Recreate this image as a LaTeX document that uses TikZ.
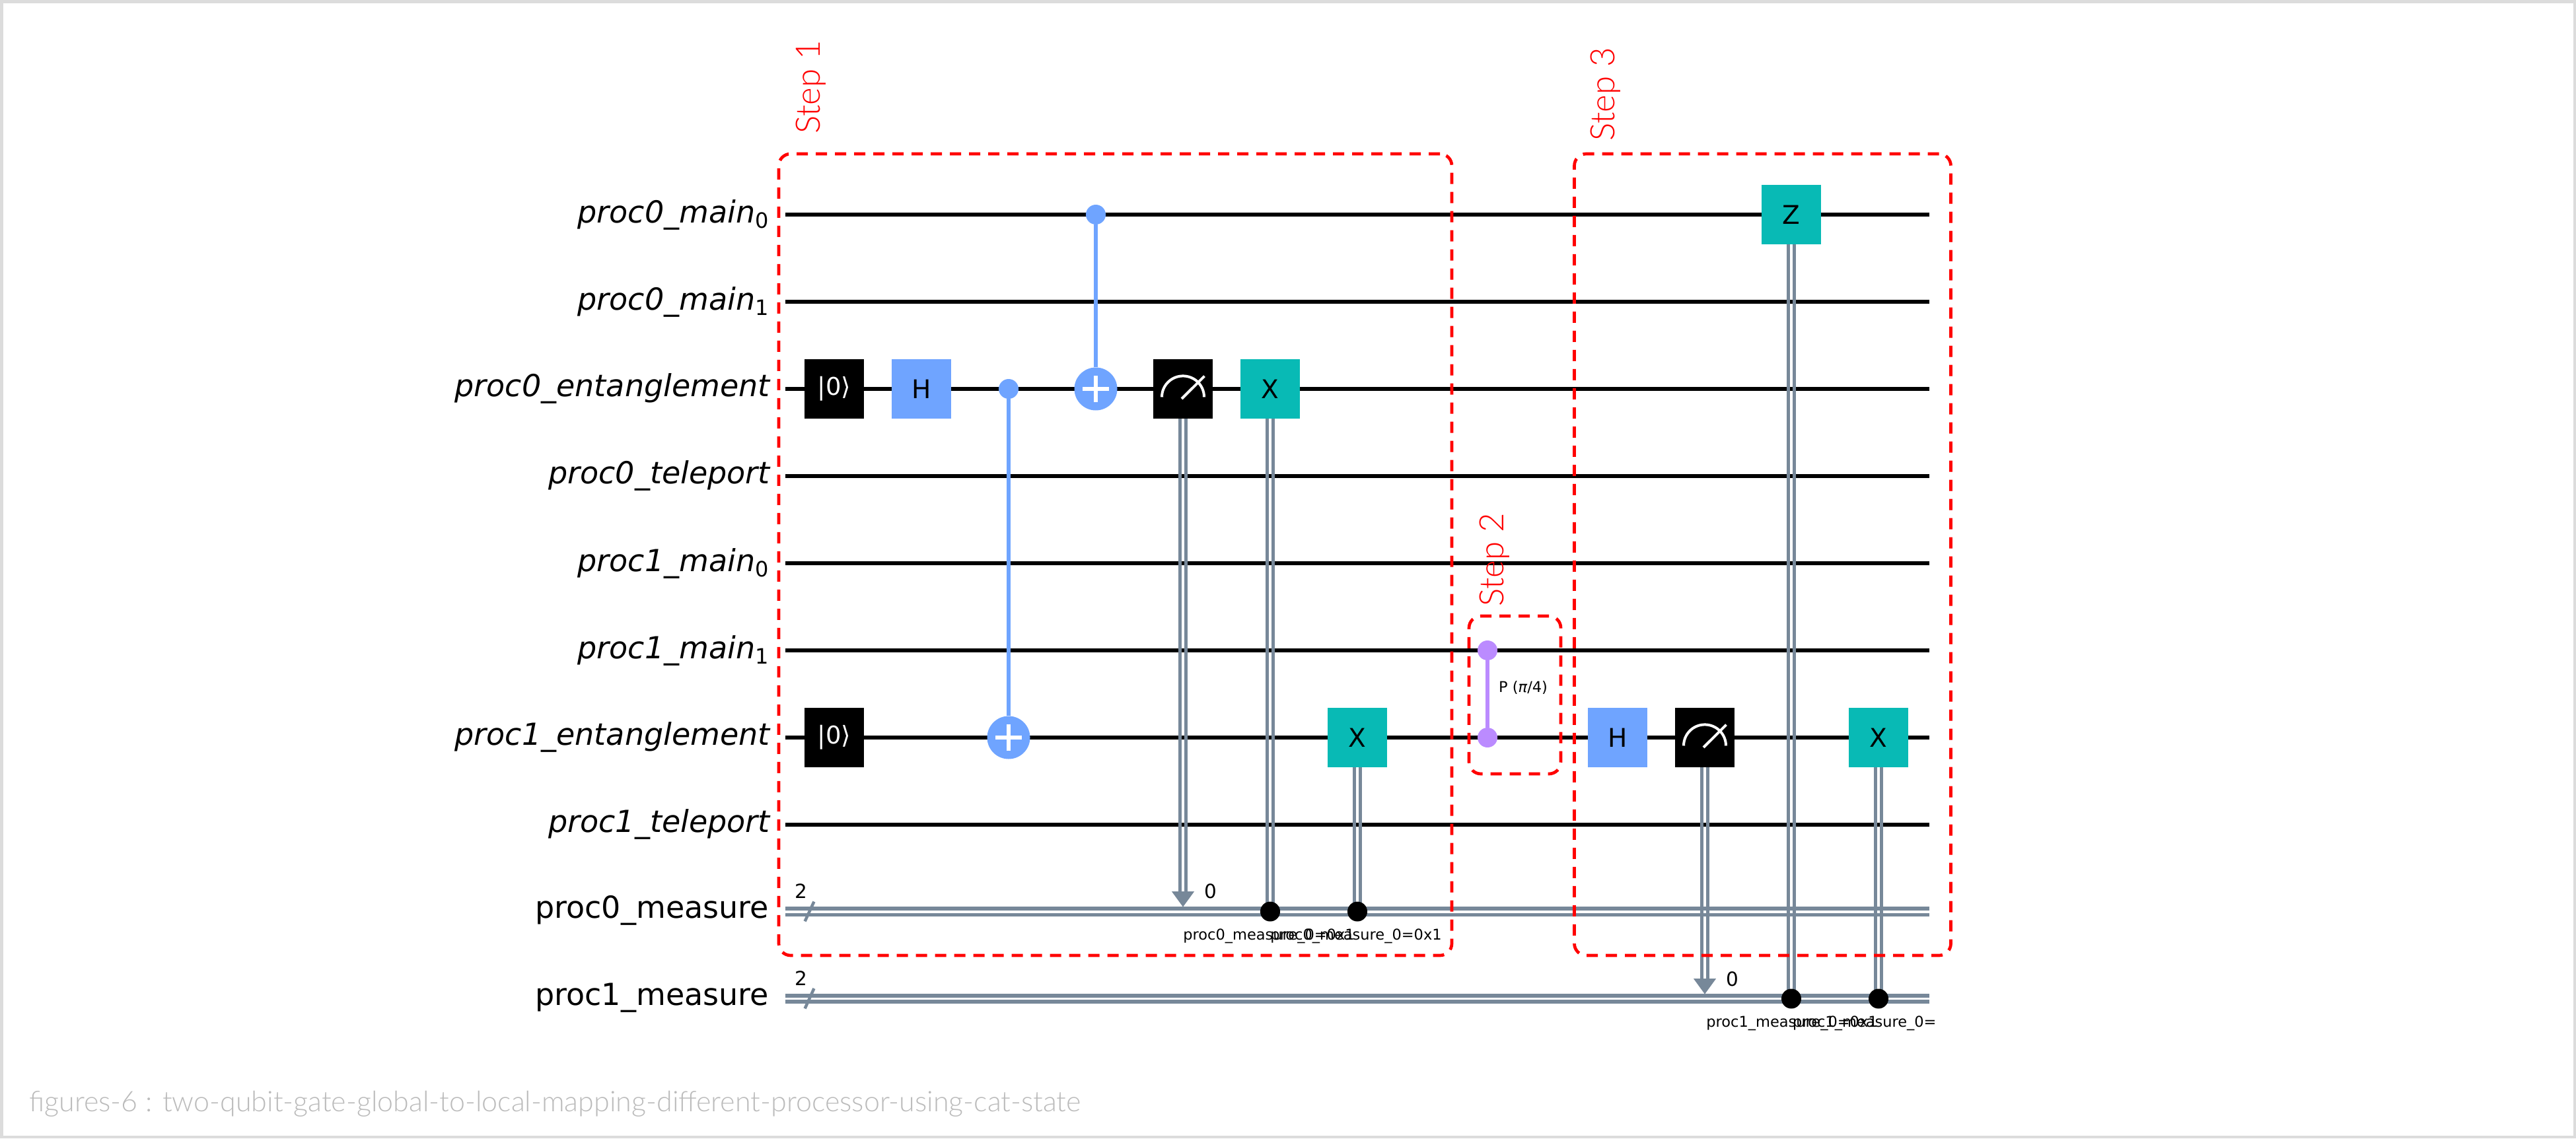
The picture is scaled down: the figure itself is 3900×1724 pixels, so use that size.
\documentclass[tikz,border=0pt]{standalone}
\usepackage{fontspec}
\usetikzlibrary{arrows.meta,backgrounds}
\setmainfont{DejaVu Sans}
\newfontfamily\lightf{Lato}[UprightFont=* Light]
\definecolor{gblue}{HTML}{6FA4FF}
\definecolor{gteal}{HTML}{08BAB5}
\definecolor{gpurple}{HTML}{BB8BFF}
\definecolor{cgray}{HTML}{778899}
\definecolor{capgray}{HTML}{BBBBBB}
\definecolor{edgegray}{HTML}{DCDCDC}
\newcommand{\fs}[1]{\fontsize{#1}{#1}\selectfont}
\newcommand{\sub}[1]{\raisebox{-8pt}{\fs{32}#1}}
\newcommand{\ccon}[2]{\draw[cwire] ([xshift=-4.6pt]#1) -- ([xshift=-4.6pt]#2);\draw[cwire] ([xshift=4.6pt]#1) -- ([xshift=4.6pt]#2);}
\newcommand{\meter}[1]{\draw[meterline] ([shift={(-32pt,-12.4pt)}]#1.center) arc[start angle=180,end angle=0,radius=32pt];\draw[meterline] ([shift={(-2pt,-15pt)}]#1.center) -- ([shift={(32.5pt,19.4pt)}]#1.center);}
\newcommand{\plus}[1]{\draw[plusline] ([xshift=-20pt]#1.center) -- ([xshift=20pt]#1.center);\draw[plusline] ([yshift=-20pt]#1.center) -- ([yshift=20pt]#1.center);}
\tikzset{
  qwire/.style={draw=black,line width=6pt},
  cwire/.style={draw=cgray,line width=5.4pt},
  slashline/.style={draw=cgray,line width=4.5pt},
  gate/.style={rectangle,inner sep=0pt,minimum width=90pt,minimum height=90pt,font=\fs{39}},
  bluegate/.style={gate,fill=gblue,text=black},
  tealgate/.style={gate,fill=gteal,text=black},
  blackgate/.style={gate,fill=black,text=white},
  resetgate/.style={blackgate,font=\fs{37}},
  dotn/.style={circle,inner sep=0pt,minimum size=30pt},
  bluedot/.style={dotn,fill=gblue},
  purpledot/.style={dotn,fill=gpurple},
  blackdot/.style={dotn,fill=black},
  target/.style={circle,inner sep=0pt,minimum size=65pt,fill=gblue},
  plusline/.style={draw=white,line width=5.5pt},
  meterline/.style={draw=white,line width=4pt},
  blueline/.style={draw=gblue,line width=6pt},
  purpleline/.style={draw=gpurple,line width=6.5pt},
  tiparrow/.style={draw=cgray,line width=1pt,-{Triangle[length=23.5pt,width=34pt,fill=cgray]}},
  wlabel/.style={anchor=base east,inner sep=0pt,font=\fs{46}},
  smalllabel/.style={anchor=base,inner sep=0pt,font=\fs{29.5}},
  condlabel/.style={anchor=base,inner sep=0pt,font=\fs{22.5}},
  stepbox/.style={draw=red,line width=4.7pt,dash pattern=on 17pt off 12pt,rounded corners=18pt,rectangle,inner sep=0pt},
  steplabel/.style={anchor=base west,rotate=90,inner sep=0pt,text=red,font=\lightf\fs{51}},
}
\begin{document}
\begin{tikzpicture}[x=1pt,y=-1pt]
\useasboundingbox (0,0) rectangle (3900,1724);
% wire end points
\foreach \n/\y in {0/325,1/457,2/589,3/721,4/853,5/985,6/1117,7/1249}{
  \coordinate (q\n s) at (1189,\y);
  \coordinate (q\n e) at (2921,\y);
}
\foreach \n/\y in {0/1376,1/1385.2,2/1507.9,3/1517.1}{
  \coordinate (c\n s) at (1189,\y);
  \coordinate (c\n e) at (2921,\y);
}
% labels
\node[wlabel] (l0) at (1164,337) {\itshape proc0\_main\sub{\upshape 0}};
\node[wlabel] (l1) at (1164,469) {\itshape proc0\_main\sub{\upshape 1}};
\node[wlabel] (l2) at (1166,600) {\itshape proc0\_entanglement};
\node[wlabel] (l3) at (1166,732) {\itshape proc0\_teleport};
\node[wlabel] (l4) at (1164,865) {\itshape proc1\_main\sub{\upshape 0}};
\node[wlabel] (l5) at (1164,997) {\itshape proc1\_main\sub{\upshape 1}};
\node[wlabel] (l6) at (1166,1128) {\itshape proc1\_entanglement};
\node[wlabel] (l7) at (1166,1260) {\itshape proc1\_teleport};
\node[wlabel] (l8) at (1164,1390) {proc0\_measure};
\node[wlabel] (l9) at (1164,1522) {proc1\_measure};
% gates
\node[resetgate] (r0) at (1263,589) {|0⟩};
\node[bluegate] (h0) at (1395,589) {H};
\node[bluedot] (cc0) at (1527,589) {};
\node[target] (tt0) at (1527,1117) {};
\node[bluedot] (cc1) at (1659,325) {};
\node[target] (tt1) at (1659,589) {};
\node[blackgate] (m0) at (1791,589) {};
\node[tealgate] (x0) at (1923,589) {X};
\node[resetgate] (r1) at (1263,1117) {|0⟩};
\node[tealgate] (x1) at (2055,1117) {X};
\node[purpledot] (p0) at (2252,985) {};
\node[purpledot] (p1) at (2252,1117) {};
\node[bluegate] (h1) at (2449,1117) {H};
\node[blackgate] (m1) at (2581,1117) {};
\node[tealgate] (z0) at (2712,325) {Z};
\node[tealgate] (x2) at (2844,1117) {X};
\node[blackdot] (d0) at (1923,1380.5) {};
\node[blackdot] (d1) at (2055,1380.5) {};
\node[blackdot] (d2) at (2712,1512.5) {};
\node[blackdot] (d3) at (2844,1512.5) {};
\coordinate (a0top) at (1791,1350);
\coordinate (a0tip) at (1791,1373.5);
\coordinate (a1top) at (2581,1482);
\coordinate (a1tip) at (2581,1505.5);
\coordinate (s0a) at (1232.4,1365.5);
\coordinate (s0b) at (1218.6,1395.3);
\coordinate (s1a) at (1232.4,1497);
\coordinate (s1b) at (1218.6,1527.4);
\begin{pgfonlayer}{background}
\fill[white] (0,0) rectangle (3900,1724);
\draw[edgegray,line width=4.5pt] (2.25,2.25) rectangle (3897.75,1721.75);
\foreach \n in {0,...,7}{\draw[qwire] (q\n s) -- (q\n e);}
\foreach \n in {0,...,3}{\draw[cwire] (c\n s) -- (c\n e);}
\draw[slashline] (s0a) -- (s0b);
\draw[slashline] (s1a) -- (s1b);
\draw[blueline] (cc0) -- (tt0);
\draw[blueline] (cc1) -- (tt1);
\draw[purpleline] (p0) -- (p1);
\ccon{m0.south}{a0top}
\ccon{x0.south}{d0.center}
\ccon{x1.south}{d1.center}
\ccon{m1.south}{a1top}
\ccon{z0.south}{d2.center}
\ccon{x2.south}{d3.center}
\draw[tiparrow] (a0top) -- (a0tip);
\draw[tiparrow] (a1top) -- (a1tip);
\end{pgfonlayer}
\plus{tt0}
\plus{tt1}
\meter{m0}
\meter{m1}
% small labels
\node[smalllabel] (n0) at (1213,1360.5) {2};
\node[smalllabel] (n1) at (1213,1492) {2};
\node[smalllabel] (n2) at (1832.5,1360.5) {0};
\node[smalllabel] (n3) at (2623,1493) {0};
\node[condlabel] (t0) at (1921,1423) {proc0\_measure\_0=0x1};
\node[condlabel] (t1) at (2053,1423) {proc0\_measure\_0=0x1};
\node[condlabel] (t2) at (2713,1555) {proc1\_measure\_0=0x1};
\node[condlabel,anchor=base west] (t3) at (2714,1555) {proc1\_measure\_0=};
\node[anchor=base west,inner sep=0pt,font=\fs{22.5}] (pl) at (2269,1048) {P (\itshape π\upshape/4)};
% step boxes
\node[stepbox,minimum width=1019pt,minimum height=1214pt] (b1) at (1688.5,840) {};
\node[stepbox,minimum width=139pt,minimum height=239pt] (b2) at (2293.5,1052.5) {};
\node[stepbox,minimum width=570pt,minimum height=1214pt] (b3) at (2668.5,840) {};
\node[steplabel] (s1) at (1241.6,203) {Step 1};
\node[steplabel] (s2) at (2276.5,919) {Step 2};
\node[steplabel] (s3) at (2444.3,214) {Step 3};
\node[anchor=base west,inner sep=0pt,text=capgray,font=\lightf\fs{43}] (cap) at (44,1683) {figures-6 : two-qubit-gate-global-to-local-mapping-different-processor-using-cat-state};
\end{tikzpicture}
\end{document}
